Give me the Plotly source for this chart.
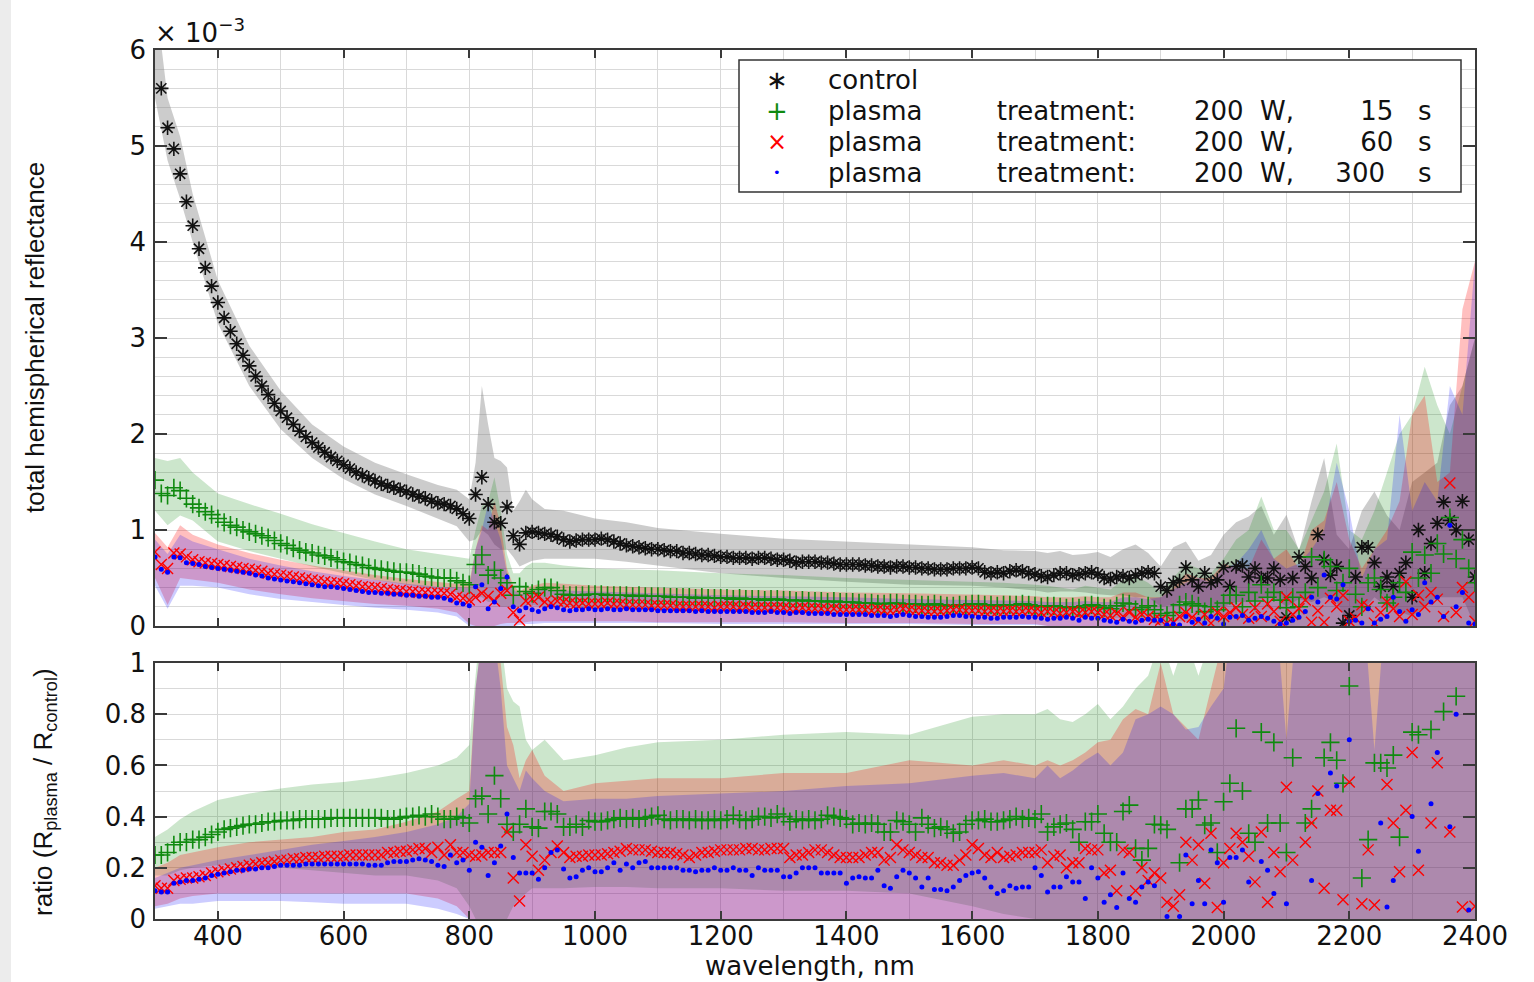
import plotly.graph_objects as go

# ---------------- data ----------------
wavelength = list(range(300, 2401, 10))

control = [
    6.10, 5.60, 5.19, 4.97, 4.71, 4.42, 4.17, 3.93, 3.73, 3.54, 3.37,
    3.21, 3.07, 2.94, 2.82, 2.71, 2.60, 2.50, 2.41, 2.32, 2.24,
    2.17, 2.10, 2.03, 1.97, 1.91, 1.86, 1.81, 1.76, 1.72, 1.68,
    1.64, 1.60, 1.57, 1.54, 1.51, 1.48, 1.46, 1.44, 1.42, 1.40,
    1.37, 1.35, 1.33, 1.30, 1.28, 1.27, 1.25, 1.22, 1.17, 1.12,
    1.37, 1.55, 1.27, 1.08, 1.07, 1.24, 0.94, 0.85, 0.97, 0.98,
    0.97, 0.96, 0.95, 0.93, 0.90, 0.88, 0.89, 0.90, 0.90, 0.90,
    0.91, 0.90, 0.88, 0.86, 0.84, 0.83, 0.82, 0.81, 0.80, 0.80,
    0.79, 0.78, 0.78, 0.76, 0.76, 0.75, 0.74, 0.74, 0.73, 0.72,
    0.72, 0.71, 0.71, 0.71, 0.70, 0.71, 0.71, 0.70, 0.69, 0.69,
    0.68, 0.66, 0.67, 0.67, 0.67, 0.66, 0.66, 0.65, 0.64, 0.64,
    0.64, 0.64, 0.63, 0.63, 0.62, 0.62, 0.61, 0.62, 0.62, 0.61,
    0.61, 0.60, 0.60, 0.59, 0.59, 0.59, 0.60, 0.60, 0.60, 0.61,
    0.60, 0.56, 0.55, 0.56, 0.55, 0.57, 0.58, 0.57, 0.55, 0.54,
    0.52, 0.51, 0.53, 0.55, 0.55, 0.53, 0.54, 0.55, 0.56, 0.54,
    0.50, 0.49, 0.51, 0.52, 0.50, 0.53, 0.55, 0.56, 0.55, 0.41,
    0.37, 0.45, 0.47, 0.61, 0.48, 0.41, 0.55, 0.45, 0.48, 0.61,
    0.41, 0.62, 0.63, 0.51, 0.60, 0.50, 0.50, 0.60, 0.48, 0.09,
    0.50, 0.72, 0.62, 0.50, 0.95, 0.69, 0.53, 0.62, 0.03, 0.11,
    0.51, 0.82, 0.82, 0.66, 0.41, 0.51, 0.41, 0.55, 0.66, 0.30,
    1.00, 0.55, 0.86, 1.07, 1.29, 1.10, 1.00, 1.30, 0.90, 0.51,
]

plasma_15 = [
    1.52, 1.38, 1.36, 1.44, 1.41, 1.33, 1.27, 1.23, 1.19, 1.16, 1.12,
    1.08, 1.05, 1.03, 1.00, 0.98, 0.96, 0.94, 0.92, 0.89, 0.86,
    0.84, 0.81, 0.79, 0.77, 0.76, 0.74, 0.73, 0.71, 0.69, 0.67,
    0.66, 0.64, 0.63, 0.61, 0.60, 0.59, 0.58, 0.57, 0.56, 0.56,
    0.55, 0.54, 0.52, 0.51, 0.50, 0.50, 0.50, 0.47, 0.45, 0.43,
    0.64, 0.74, 0.53, 0.58, 0.50, 0.45, 0.32, 0.41, 0.36, 0.34,
    0.38, 0.40, 0.40, 0.37, 0.33, 0.32, 0.32, 0.32, 0.33, 0.33,
    0.33, 0.32, 0.32, 0.32, 0.32, 0.31, 0.32, 0.31, 0.31, 0.31,
    0.31, 0.30, 0.30, 0.30, 0.30, 0.29, 0.30, 0.29, 0.29, 0.29,
    0.29, 0.28, 0.29, 0.28, 0.28, 0.28, 0.27, 0.28, 0.28, 0.27,
    0.27, 0.26, 0.27, 0.26, 0.26, 0.26, 0.25, 0.26, 0.25, 0.25,
    0.25, 0.24, 0.24, 0.24, 0.23, 0.23, 0.24, 0.24, 0.23, 0.23,
    0.23, 0.22, 0.22, 0.23, 0.22, 0.21, 0.21, 0.22, 0.22, 0.23,
    0.23, 0.22, 0.22, 0.21, 0.22, 0.22, 0.22, 0.23, 0.22, 0.21,
    0.20, 0.21, 0.21, 0.20, 0.19, 0.20, 0.19, 0.21, 0.22, 0.21,
    0.19, 0.18, 0.21, 0.24, 0.23, 0.17, 0.19, 0.21, 0.17, 0.13,
    0.11, 0.14, 0.22, 0.25, 0.23, 0.21, 0.15, 0.20, 0.17, 0.24,
    0.32, 0.32, 0.20, 0.35, 0.26, 0.43, 0.30, 0.35, 0.27, 0.19,
    0.30, 0.20, 0.35, 0.72, 0.40, 0.69, 0.62, 0.37, 0.45, 0.60,
    0.33, 0.20, 0.45, 0.50, 0.38, 0.24, 0.30, 0.45, 0.35, 0.77,
    0.50, 0.74, 0.55, 0.86, 0.75, 1.13, 0.70, 0.90, 0.60, 0.45,
]

plasma_60 = [
    0.77, 0.64, 0.60, 0.76, 0.75, 0.72, 0.69, 0.67, 0.66, 0.65, 0.64,
    0.63, 0.62, 0.61, 0.60, 0.59, 0.58, 0.57, 0.55, 0.54, 0.53,
    0.52, 0.51, 0.50, 0.49, 0.48, 0.47, 0.46, 0.45, 0.45, 0.44,
    0.43, 0.42, 0.41, 0.40, 0.40, 0.39, 0.38, 0.37, 0.37, 0.36,
    0.36, 0.35, 0.35, 0.34, 0.34, 0.34, 0.33, 0.30, 0.29, 0.27,
    0.30, 0.34, 0.31, 0.26, 0.34, 0.37, 0.14, 0.06, 0.26, 0.28,
    0.30, 0.25, 0.24, 0.26, 0.25, 0.24, 0.23, 0.24, 0.23, 0.23,
    0.23, 0.24, 0.23, 0.23, 0.22, 0.22, 0.22, 0.22, 0.21, 0.21,
    0.21, 0.21, 0.20, 0.20, 0.20, 0.20, 0.20, 0.20, 0.19, 0.20,
    0.20, 0.20, 0.19, 0.20, 0.19, 0.19, 0.19, 0.19, 0.19, 0.19,
    0.18, 0.18, 0.19, 0.18, 0.18, 0.18, 0.17, 0.18, 0.17, 0.17,
    0.17, 0.17, 0.17, 0.16, 0.17, 0.16, 0.16, 0.17, 0.18, 0.17,
    0.16, 0.16, 0.15, 0.15, 0.15, 0.16, 0.17, 0.17, 0.16, 0.16,
    0.16, 0.15, 0.16, 0.15, 0.15, 0.16, 0.15, 0.15, 0.16, 0.15,
    0.14, 0.15, 0.14, 0.13, 0.14, 0.15, 0.13, 0.14, 0.15, 0.14,
    0.12, 0.11, 0.13, 0.10, 0.14, 0.09, 0.12, 0.10, 0.07, 0.06,
    0.03, 0.04, 0.10, 0.14, 0.09, 0.05, 0.12, 0.03, 0.14, 0.10,
    0.14, 0.19, 0.12, 0.08, 0.19, 0.10, 0.23, 0.15, 0.05, 0.30,
    0.12, 0.18, 0.27, 0.04, 0.16, 0.04, 0.29, 0.20, 0.32, 0.05,
    0.08, 0.22, 0.20, 0.03, 0.14, 0.25, 0.18, 0.10, 0.46, 0.12,
    0.32, 0.20, 0.35, 0.28, 0.10, 1.49, 0.14, 0.40, 0.30, 0.05,
]

plasma_300 = [
    0.72, 0.59, 0.56, 0.72, 0.71, 0.66, 0.65, 0.64, 0.62, 0.61, 0.60,
    0.59, 0.58, 0.57, 0.56, 0.55, 0.53, 0.52, 0.50, 0.49, 0.48,
    0.47, 0.46, 0.45, 0.44, 0.43, 0.42, 0.41, 0.41, 0.40, 0.39,
    0.38, 0.37, 0.36, 0.35, 0.35, 0.34, 0.34, 0.33, 0.33, 0.32,
    0.32, 0.31, 0.31, 0.30, 0.30, 0.29, 0.27, 0.24, 0.23, 0.21,
    0.41, 0.43, 0.18, 0.25, 0.39, 0.51, 0.20, 0.16, 0.19, 0.17,
    0.15, 0.18, 0.20, 0.19, 0.17, 0.16, 0.17, 0.17, 0.18, 0.17,
    0.17, 0.18, 0.17, 0.17, 0.18, 0.17, 0.17, 0.17, 0.17, 0.16,
    0.16, 0.16, 0.16, 0.16, 0.16, 0.15, 0.16, 0.15, 0.15, 0.15,
    0.15, 0.15, 0.15, 0.15, 0.14, 0.14, 0.14, 0.15, 0.14, 0.14,
    0.13, 0.14, 0.14, 0.13, 0.13, 0.13, 0.13, 0.12, 0.12, 0.12,
    0.12, 0.12, 0.12, 0.11, 0.11, 0.11, 0.10, 0.11, 0.12, 0.11,
    0.10, 0.10, 0.09, 0.09, 0.09, 0.10, 0.11, 0.11, 0.10, 0.10,
    0.09, 0.09, 0.08, 0.08, 0.09, 0.09, 0.09, 0.10, 0.09, 0.09,
    0.08, 0.07, 0.08, 0.08, 0.09, 0.08, 0.06, 0.09, 0.08, 0.08,
    0.06, 0.05, 0.04, 0.07, 0.05, 0.04, 0.06, 0.07, 0.06, 0.06,
    0.01, 0.02, 0.01, 0.10, 0.04, 0.07, 0.03, 0.10, 0.08, 0.02,
    0.09, 0.10, 0.11, 0.06, 0.08, 0.10, 0.08, 0.05, 0.02, 0.03,
    0.06, 0.09, 0.15, 0.30, 0.25, 0.53, 0.30, 0.28, 0.43, 0.05,
    0.06, 0.03, 0.18, 0.03, 0.07, 0.10, 0.30, 0.15, 0.05, 0.17,
    0.12, 0.45, 0.25, 0.30, 0.10, 1.05, 0.20, 0.35, 0.03, 0.02,
]

ratio_15 = [
    0.25, 0.25, 0.26, 0.29, 0.30, 0.30, 0.31, 0.31, 0.32, 0.33, 0.34,
    0.35, 0.355, 0.36, 0.365, 0.37, 0.37, 0.375, 0.38, 0.38, 0.385,
    0.385, 0.385, 0.39, 0.39, 0.39, 0.39, 0.39, 0.395, 0.395, 0.395,
    0.395, 0.395, 0.395, 0.395, 0.395, 0.395, 0.39, 0.39, 0.395, 0.40,
    0.40, 0.405, 0.40, 0.41, 0.40, 0.39, 0.39, 0.40, 0.395, 0.375,
    0.47, 0.48, 0.41, 0.56, 0.47, 0.37, 0.34, 0.37, 0.43, 0.36,
    0.355, 0.42, 0.42, 0.41, 0.36, 0.36, 0.37, 0.36, 0.385, 0.38,
    0.38, 0.385, 0.39, 0.395, 0.39, 0.395, 0.39, 0.395, 0.40, 0.405,
    0.39, 0.385, 0.39, 0.39, 0.385, 0.39, 0.385, 0.385, 0.39, 0.385,
    0.39, 0.405, 0.39, 0.385, 0.39, 0.40, 0.40, 0.395, 0.41, 0.40,
    0.38, 0.39, 0.385, 0.39, 0.385, 0.39, 0.405, 0.40, 0.395, 0.39,
    0.37, 0.375, 0.37, 0.375, 0.37, 0.34, 0.34, 0.385, 0.38, 0.37,
    0.34, 0.395, 0.37, 0.355, 0.36, 0.35, 0.335, 0.34, 0.37, 0.385,
    0.385, 0.39, 0.38, 0.38, 0.385, 0.39, 0.40, 0.39, 0.395, 0.39,
    0.41, 0.34, 0.36, 0.37, 0.375, 0.35, 0.30, 0.38, 0.38, 0.41,
    0.335, 0.30, 0.30, 0.42, 0.445, 0.276, 0.23, 0.276, 0.37, 0.367,
    0.35, 1.10, 0.22, 0.43, 0.43, 0.465, 0.367, 0.375, 0.26, 0.458,
    0.53, 0.745, 0.50, 0.335, 0.30, 0.73, 0.375, 0.69, 0.375, 0.26,
    0.63, 1.20, 0.375, 0.43, 1.10, 0.63, 0.69, 0.62, 0.53, 0.91,
    1.20, 0.16, 0.31, 0.61, 0.61, 0.59, 0.64, 0.32, 1.20, 0.73,
    0.72, 1.30, 0.74, 1.10, 0.81, 1.20, 0.87, 1.40, 1.30, 1.20,
]

ratio_60 = [
    0.13, 0.12, 0.12, 0.15, 0.155, 0.16, 0.16, 0.165, 0.17, 0.18, 0.185,
    0.19, 0.195, 0.20, 0.205, 0.21, 0.215, 0.22, 0.22, 0.225, 0.23,
    0.23, 0.235, 0.235, 0.24, 0.24, 0.24, 0.245, 0.245, 0.245, 0.245,
    0.25, 0.25, 0.25, 0.25, 0.25, 0.25, 0.26, 0.26, 0.265, 0.265,
    0.27, 0.275, 0.275, 0.26, 0.28, 0.25, 0.29, 0.26, 0.26, 0.25,
    0.245, 0.25, 0.26, 0.26, 0.26, 0.34, 0.16, 0.07, 0.29, 0.245,
    0.19, 0.23, 0.26, 0.285, 0.26, 0.24, 0.245, 0.245, 0.25, 0.25,
    0.25, 0.255, 0.26, 0.265, 0.275, 0.27, 0.27, 0.27, 0.265, 0.26,
    0.26, 0.26, 0.255, 0.25, 0.24, 0.25, 0.26, 0.26, 0.265, 0.27,
    0.27, 0.27, 0.27, 0.275, 0.275, 0.27, 0.27, 0.275, 0.275, 0.275,
    0.24, 0.25, 0.25, 0.26, 0.27, 0.27, 0.26, 0.25, 0.24, 0.24,
    0.24, 0.24, 0.25, 0.26, 0.26, 0.23, 0.24, 0.29, 0.27, 0.26,
    0.25, 0.24, 0.24, 0.22, 0.22, 0.21, 0.21, 0.23, 0.25, 0.29,
    0.275, 0.25, 0.24, 0.26, 0.24, 0.245, 0.25, 0.26, 0.26, 0.26,
    0.27, 0.22, 0.245, 0.25, 0.20, 0.22, 0.22, 0.275, 0.27, 0.27,
    0.18, 0.19, 0.11, 0.27, 0.26, 0.11, 0.20, 0.15, 0.18, 0.16,
    0.065, 0.05, 0.095, 0.30, 0.23, 0.29, 0.14, 0.335, 0.045, 0.22,
    0.275, 0.335, 0.30, 0.245, 0.145, 0.34, 0.065, 0.26, 0.185, 0.515,
    0.23, -0.05, 0.30, 0.375, 0.50, 0.12, 0.425, 0.425, 0.075, 0.535,
    -0.05, 0.06, 0.27, 0.055, -0.05, 0.525, 0.375, 0.185, 0.425, 0.65,
    0.19, -0.05, 0.375, 0.61, -0.05, 0.34, -0.05, 0.047, -0.05, 0.05,
]

ratio_300 = [
    0.11, 0.105, 0.105, 0.14, 0.145, 0.15, 0.15, 0.155, 0.16, 0.17, 0.175,
    0.18, 0.185, 0.19, 0.19, 0.195, 0.195, 0.20, 0.20, 0.205, 0.21,
    0.21, 0.21, 0.21, 0.215, 0.215, 0.215, 0.215, 0.215, 0.215, 0.215,
    0.215, 0.215, 0.215, 0.21, 0.21, 0.21, 0.22, 0.225, 0.225, 0.225,
    0.23, 0.235, 0.23, 0.225, 0.21, 0.205, 0.25, 0.22, 0.23, 0.19,
    0.30, 0.28, 0.17, 0.22, 0.285, 0.41, 0.24, 0.18, 0.18, 0.18,
    0.155, 0.20, 0.26, 0.27, 0.195, 0.16, 0.165, 0.19, 0.20, 0.185,
    0.185, 0.20, 0.22, 0.19, 0.215, 0.20, 0.22, 0.225, 0.20, 0.20,
    0.20, 0.20, 0.20, 0.19, 0.19, 0.185, 0.19, 0.19, 0.20, 0.19,
    0.19, 0.20, 0.19, 0.19, 0.17, 0.20, 0.19, 0.19, 0.19, 0.165,
    0.165, 0.18, 0.20, 0.20, 0.20, 0.18, 0.18, 0.18, 0.18, 0.14,
    0.16, 0.165, 0.16, 0.16, 0.19, 0.13, 0.12, 0.165, 0.19, 0.18,
    0.16, 0.125, 0.16, 0.115, 0.115, 0.11, 0.125, 0.15, 0.17, 0.18,
    0.185, 0.16, 0.125, 0.10, 0.11, 0.13, 0.12, 0.125, 0.125, 0.20,
    0.17, 0.105, 0.125, 0.125, 0.165, 0.145, 0.145, 0.08, 0.20, 0.16,
    0.065, 0.095, 0.045, 0.18, 0.08, 0.065, 0.125, 0.145, 0.13, -0.05,
    0.01, -0.05, 0.01, 0.25, 0.06, 0.15, 0.06, 0.27, 0.22, 0.065,
    0.24, 0.24, 0.27, 0.145, -0.05, 0.225, 0.19, 0.10, -0.05, 0.06,
    -0.05, -0.05, -0.05, 0.15, 0.49, -0.05, 0.57, 0.52, -0.05, 0.70,
    -0.05, -0.05, -0.05, -0.05, 0.375, 0.047, 0.15, -0.05, -0.05, 0.40,
    0.265, -0.05, 0.45, 0.65, -0.05, 0.36, 0.80, -0.05, 0.035, -0.05,
]

# spread bands (sampled on their own wavelength breakpoints)
band_x = [
    300, 320, 340, 360, 400, 450, 500, 550, 600, 650, 700, 750, 780, 800,
    810, 820, 830, 840, 850, 860, 870, 880, 890, 900,
    920, 950, 1000, 1050, 1100, 1200, 1300, 1400, 1500, 1600, 1650, 1700,
    1720, 1740, 1760, 1780, 1800, 1820, 1840, 1860, 1880, 1900,
    1920, 1940, 1960, 1980, 2000, 2020, 2040, 2060, 2080, 2100,
    2120, 2140, 2160, 2180, 2200, 2220, 2240, 2260, 2280, 2300,
    2320, 2340, 2360, 2380, 2400,
]
Z10 = [0] * 10
control_hi = [6.6, 5.5, 5.1, 4.5, 3.6, 2.92, 2.45, 2.1, 1.87, 1.7, 1.58, 1.47, 1.42, 1.32,
              1.7, 2.5, 2.1, 1.75, 1.72, 1.65, 1.2, 1.3, 1.42, 1.32,
              1.22, 1.2, 1.12, 1.08, 1.02, 0.96, 0.91, 0.88, 0.85, 0.82, 0.79, 0.78,
              0.76, 0.78, 0.74, 0.75, 0.77, 0.72, 0.8, 0.85, 0.76, 0.62,
              0.82, 0.88, 0.68, 0.74, 0.95, 1.08, 1.14, 1.25, 0.95, 1.16,
              0.78, 1.3, 1.75, 0.95, 0.8, 1.2, 1.4, 1.15, 1.0, 1.5,
              1.6, 1.7, 2.3, 2.5, 3.0]
control_lo = [5.5, 4.85, 4.45, 4.0, 3.15, 2.5, 2.05, 1.75, 1.53, 1.37, 1.25, 1.12, 1.04, 0.88,
              0.9, 1.0, 0.95, 0.85, 0.8, 0.8, 0.72, 0.62, 0.65, 0.68,
              0.7, 0.7, 0.7, 0.67, 0.63, 0.55, 0.5, 0.46, 0.43, 0.42, 0.4, 0.37,
              0.35, 0.36, 0.36, 0.35, 0.33, 0.32, 0.32, 0.30, 0.30, 0.20,
              0.22, 0.28, 0.20, 0.20, 0.20, 0.25, 0.25, 0.28, 0.30, 0.20,
              0.28, 0.25, 0.30, 0.25, 0.0, 0.15, 0.30, 0.20, 0.15, 0.10,
              0.20, 0.30, 0.30, 0.30, 0.0]
p15_hi = [1.75, 1.72, 1.75, 1.6, 1.38, 1.27, 1.17, 1.06, 0.97, 0.88, 0.8, 0.75, 0.72, 0.7,
          1.0, 1.25, 1.3, 1.55, 1.2, 0.75, 0.55, 0.55, 0.62, 0.66,
          0.66, 0.63, 0.6, 0.59, 0.58, 0.55, 0.53, 0.5, 0.48, 0.46, 0.45, 0.43,
          0.42, 0.40, 0.38, 0.42, 0.40, 0.38, 0.48, 0.52, 0.45, 0.35,
          0.5, 0.65, 0.6, 0.55, 0.7, 0.9, 1.0, 1.35, 1.0, 1.0,
          0.8, 1.1, 1.4, 1.9, 1.0, 0.9, 1.2, 1.6, 2.0, 2.2,
          2.7, 2.3, 2.0, 2.5, 3.0]
p15_lo = [1.2, 1.05, 1.15, 1.1, 0.88, 0.78, 0.7, 0.62, 0.55, 0.48, 0.43, 0.38, 0.35, 0.25,
          0.3, 0.3, 0.25, 0.25, 0.2, 0.2, 0.2, 0.2, 0.22, 0.22,
          0.2, 0.2, 0.18, 0.17, 0.16, 0.15, 0.14, 0.13, 0.12, 0.11, 0.1, 0.1,
          0.1, 0.1, 0.1, 0.1, 0.08, 0.08, 0.08, 0.08, 0.05, 0.0,
          0.05, 0.05, 0, 0, 0, 0, 0, 0, 0, 0] + Z10 + [0] * 5
p60_hi = [0.97, 0.82, 1.05, 0.95, 0.85, 0.76, 0.69, 0.63, 0.58, 0.53, 0.49, 0.46, 0.44, 0.45,
          0.8, 1.05, 1.0, 1.3, 1.05, 0.6, 0.42, 0.36, 0.4, 0.42,
          0.45, 0.44, 0.42, 0.41, 0.4, 0.38, 0.37, 0.35, 0.34, 0.33, 0.32, 0.31,
          0.3, 0.3, 0.3, 0.31, 0.3, 0.3, 0.35, 0.35, 0.3, 0.3,
          0.4, 0.55, 0.5, 0.5, 0.65, 0.6, 0.6, 0.9, 0.7, 0.8,
          0.6, 1.0, 1.1, 1.5, 0.9, 0.6, 0.8, 1.0, 1.3, 2.2,
          2.4, 1.5, 1.6, 3.3, 3.8]
p60_lo = [0.5, 0.22, 0.5, 0.48, 0.45, 0.38, 0.33, 0.29, 0.26, 0.23, 0.21, 0.18, 0.14, 0.02,
          0, 0, 0, 0, 0.02, 0.03, 0.03, 0.03, 0.04, 0.05,
          0.05, 0.05, 0.05, 0.05, 0.04, 0.04, 0.04, 0.03, 0.03, 0.02, 0.02, 0.02] + Z10 + Z10 + Z10 + [0] * 5
p300_hi = [0.9, 0.75, 0.95, 0.88, 0.8, 0.7, 0.63, 0.57, 0.52, 0.48, 0.44, 0.41, 0.4, 0.4,
           0.8, 1.0, 1.28, 1.1, 0.9, 0.55, 0.38, 0.33, 0.35, 0.36,
           0.38, 0.37, 0.36, 0.35, 0.34, 0.32, 0.31, 0.3, 0.28, 0.27, 0.26, 0.26,
           0.25, 0.25, 0.25, 0.26, 0.25, 0.25, 0.3, 0.3, 0.28, 0.3,
           0.38, 0.45, 0.5, 0.45, 0.6, 0.65, 0.8, 1.0, 0.7, 0.6,
           0.65, 0.8, 1.0, 1.7, 1.2, 0.5, 0.8, 0.9, 2.2, 1.2,
           1.5, 1.3, 2.5, 2.2, 3.8]
p300_lo = [0.42, 0.18, 0.42, 0.42, 0.4, 0.33, 0.28, 0.25, 0.22, 0.19, 0.17, 0.14, 0.1, 0.0,
           0, 0, 0, 0, 0, 0, 0, 0.01, 0.02, 0.02,
           0.03, 0.03, 0.03, 0.03, 0.03, 0.02, 0.02, 0.02, 0.02, 0.01, 0.01, 0.01] + Z10 + Z10 + Z10 + [0] * 5

r15_hi = [0.32, 0.35, 0.39, 0.42, 0.465, 0.49, 0.51, 0.525, 0.535, 0.55, 0.57, 0.6, 0.63, 0.68,
          0.95, 1.2, 1.2, 1.2, 1.1, 0.9, 0.85, 0.83, 0.7, 0.66,
          0.7, 0.62, 0.64, 0.67, 0.69, 0.70, 0.72, 0.73, 0.72, 0.79, 0.8, 0.8,
          0.82, 0.78, 0.77, 0.8, 0.84, 0.78, 0.83, 0.9, 0.95, 1.1,
          0.95, 1.1, 0.95, 1.1, 1.2, 1.3, 1.3, 1.3, 1.3, 1.3] + [1.3] * 15
r15_lo = [0.17, 0.17, 0.19, 0.2, 0.21, 0.21, 0.2, 0.19, 0.18, 0.17, 0.17, 0.15, 0.12, 0.05,
          0, 0, 0, 0, 0, 0, 0.05, 0.08, 0.1, 0.12,
          0.12, 0.12, 0.125, 0.125, 0.12, 0.12, 0.11, 0.11, 0.1, 0.05, 0.02, 0.0] + Z10 + Z10 + Z10 + [0] * 5
r60_hi = [0.2, 0.22, 0.25, 0.26, 0.28, 0.3, 0.31, 0.32, 0.34, 0.35, 0.38, 0.42, 0.47, 0.5,
          0.9, 1.1, 1.1, 1.1, 1.0, 0.75, 0.68, 0.55, 0.62, 0.66,
          0.56, 0.5, 0.53, 0.54, 0.55, 0.55, 0.57, 0.57, 0.62, 0.6, 0.62, 0.6,
          0.62, 0.6, 0.62, 0.65, 0.69, 0.7, 0.78, 0.82, 0.8, 1.0,
          0.8, 0.75, 0.7, 0.9, 1.1, 1.3, 1.3, 1.3, 1.3, 1.3] + [1.3] * 15
r60_lo = [0.05, 0.06, 0.08, 0.09, 0.1, 0.1, 0.1, 0.1, 0.1, 0.1, 0.1, 0.08, 0.05, 0.0] + [0] * 57
r300_hi = [0.16, 0.18, 0.2, 0.21, 0.23, 0.25, 0.27, 0.29, 0.305, 0.32, 0.34, 0.37, 0.4, 0.45,
           0.9, 1.1, 1.1, 1.1, 0.9, 0.6, 0.55, 0.5, 0.58, 0.55,
           0.5, 0.46, 0.47, 0.47, 0.48, 0.49, 0.5, 0.52, 0.53, 0.56, 0.57, 0.55,
           0.6, 0.55, 0.58, 0.62, 0.65, 0.6, 0.65, 0.78, 0.8, 0.83,
           0.8, 0.74, 0.75, 0.83, 0.9, 1.3, 1.3, 1.3, 1.3, 0.7,
           1.3, 1.3, 1.3, 1.3, 1.3, 1.3, 0.66, 1.3, 1.3, 1.3,
           1.3, 1.3, 1.3, 1.3, 1.3]
r300_lo = [0.04, 0.05, 0.06, 0.06, 0.07, 0.07, 0.07, 0.065, 0.06, 0.06, 0.06, 0.04, 0.02, 0.0] + [0] * 57

for name, arr in [("control", control), ("plasma_15", plasma_15), ("plasma_60", plasma_60),
                  ("plasma_300", plasma_300), ("ratio_15", ratio_15), ("ratio_60", ratio_60),
                  ("ratio_300", ratio_300)]:
    assert len(arr) == len(wavelength), (name, len(arr))
for name, arr in [("control_hi", control_hi), ("control_lo", control_lo), ("p15_hi", p15_hi),
                  ("p15_lo", p15_lo), ("p60_hi", p60_hi), ("p60_lo", p60_lo), ("p300_hi", p300_hi),
                  ("p300_lo", p300_lo), ("r15_hi", r15_hi), ("r15_lo", r15_lo), ("r60_hi", r60_hi),
                  ("r60_lo", r60_lo), ("r300_hi", r300_hi), ("r300_lo", r300_lo)]:
    assert len(arr) == len(band_x), (name, len(arr))

legend_labels = [
    "control",
    "plasma  treatment: 200 W,   15 s",
    "plasma  treatment: 200 W,   60 s",
    "plasma  treatment: 200 W, 300 s",
]

# ---------------- styling ----------------
W, H = 1534, 982
PL, PR, PT, PB = 155, 1475, 50, 919   # plot box in px


def fx(px):
    return (px - PL) / (PR - PL)


def fy(py):
    return (PB - py) / (PB - PT)


C_GRAY = "rgba(128,128,128,0.40)"
C_GREEN = "rgba(0,128,0,0.20)"
C_RED = "rgba(255,0,0,0.25)"
C_BLUE = "rgba(0,0,255,0.20)"
COL_CTRL, COL_15, COL_60, COL_300 = "#111111", "#0f8a0f", "#ff0000", "#0000ff"
TEXT = "DejaVu Sans"

fig = go.Figure()


def band(lo, hi, color, xa, ya):
    fig.add_trace(go.Scatter(
        x=band_x + band_x[::-1], y=hi + lo[::-1], fill="toself", fillcolor=color,
        mode="lines", line=dict(width=0), hoverinfo="skip", showlegend=False,
        xaxis=xa, yaxis=ya))


band(control_lo, control_hi, C_GRAY, "x", "y")
band(p15_lo, p15_hi, C_GREEN, "x", "y")
band(p60_lo, p60_hi, C_RED, "x", "y")
band(p300_lo, p300_hi, C_BLUE, "x", "y")
band(r15_lo, r15_hi, C_GREEN, "x2", "y2")
band(r60_lo, r60_hi, C_RED, "x2", "y2")
band(r300_lo, r300_hi, C_BLUE, "x2", "y2")

mk_ctrl = dict(symbol="asterisk-open", size=12, color=COL_CTRL, line=dict(width=1.6, color=COL_CTRL))
mk_15 = dict(symbol="cross-thin-open", size=13, color=COL_15, line=dict(width=1.6, color=COL_15))
mk_60 = dict(symbol="x-thin-open", size=11, color=COL_60, line=dict(width=1.4, color=COL_60))
mk_300 = dict(symbol="circle", size=5, color=COL_300, line=dict(width=0))

for ys, mk, name in [(control, mk_ctrl, legend_labels[0]), (plasma_15, mk_15, legend_labels[1]),
                     (plasma_60, mk_60, legend_labels[2]), (plasma_300, mk_300, legend_labels[3])]:
    fig.add_trace(go.Scatter(x=wavelength, y=ys, mode="markers", marker=mk, name=name,
                             showlegend=False, xaxis="x", yaxis="y"))
for ys, mk, name in [(ratio_15, mk_15, legend_labels[1]), (ratio_60, mk_60, legend_labels[2]),
                     (ratio_300, mk_300, legend_labels[3])]:
    fig.add_trace(go.Scatter(x=wavelength, y=ys, mode="markers", marker=mk, name=name,
                             showlegend=False, xaxis="x2", yaxis="y2"))

GRID = "#d9d9d9"
AX = "#3a3a3a"
common = dict(showline=True, linecolor=AX, linewidth=1.5, mirror="ticks", ticks="inside",
              tickcolor=AX, tickwidth=1.5, showgrid=True, gridcolor=GRID, gridwidth=1.3,
              zeroline=False, tickfont=dict(family=TEXT, size=26, color="#111111"))

fig.update_layout(
    width=W, height=H, paper_bgcolor="white", plot_bgcolor="white",
    margin=dict(l=PL, r=W - PR, t=PT, b=H - PB), showlegend=False,
    xaxis=dict(common, domain=[0, 1], anchor="y", range=[300, 2400], dtick=200, tick0=0,
               ticklen=8, showticklabels=False,
               minor=dict(dtick=100, showgrid=True, gridcolor=GRID, gridwidth=1.3, ticks="")),
    yaxis=dict(common, domain=[fy(626), 1], anchor="x", range=[0, 6], dtick=1, ticklen=12,
               ticklabelstandoff=2,
               minor=dict(dtick=0.2, showgrid=True, gridcolor=GRID, gridwidth=1.3, ticks="")),
    xaxis2=dict(common, domain=[0, 1], anchor="y2", range=[300, 2400], dtick=200, tick0=0,
                ticklen=8, ticklabelstandoff=-7,
                minor=dict(dtick=100, showgrid=True, gridcolor=GRID, gridwidth=1.3, ticks="")),
    yaxis2=dict(common, domain=[0, fy(663)], anchor="x2", range=[0, 1], dtick=0.2, ticklen=12,
                ticklabelstandoff=2,
                minor=dict(dtick=0.1, showgrid=True, gridcolor=GRID, gridwidth=1.3, ticks="")),
)

shapes = [
    dict(type="rect", xref="paper", yref="paper", x0=fx(0), x1=fx(11), y0=fy(H), y1=fy(0),
         fillcolor="#ececec", line=dict(width=0), layer="below"),
    dict(type="rect", xref="paper", yref="paper", x0=fx(739), x1=fx(1461), y0=fy(192), y1=fy(60),
         fillcolor="white", line=dict(color="#333333", width=1.5), layer="above"),
]

NB = "\u00a0"
legend_text = [
    "control",
    "plasma" + NB * 9 + "treatment:" + NB * 7 + "200" + NB * 2 + "W," + NB * 8 + "15" + NB * 3 + "s",
    "plasma" + NB * 9 + "treatment:" + NB * 7 + "200" + NB * 2 + "W," + NB * 8 + "60" + NB * 3 + "s",
    "plasma" + NB * 9 + "treatment:" + NB * 7 + "200" + NB * 2 + "W," + NB * 5 + "300" + NB * 4 + "s",
]
legend_syms = [("\u2217", COL_CTRL, 26), ("+", COL_15, 26), ("\u00d7", COL_60, 24), ("\u2022", COL_300, 13)]
row_y = [80, 111, 142, 173]

annotations = [
    dict(text="\u00d7 10<sup>\u22123</sup>", xref="paper", yref="paper", x=fx(153), y=fy(31),
         xanchor="left", yanchor="middle", showarrow=False,
         font=dict(family=TEXT, size=26, color="#111111")),
    dict(text="total hemispherical reflectance", xref="paper", yref="paper", x=fx(35), y=fy(338),
         xanchor="center", yanchor="middle", textangle=-90, showarrow=False,
         font=dict(family="Liberation Sans", size=26, color="#111111")),
    dict(text="ratio (R<sub>plasma</sub> / R<sub>control</sub>)", xref="paper", yref="paper",
         x=fx(44), y=fy(792), xanchor="center", yanchor="middle", textangle=-90, showarrow=False,
         font=dict(family="Liberation Sans", size=26, color="#111111")),
    dict(text="wavelength, nm", xref="paper", yref="paper", x=fx(810), y=fy(966),
         xanchor="center", yanchor="middle", showarrow=False,
         font=dict(family=TEXT, size=26, color="#111111")),
]
for txt, (sym, col, sz), yy in zip(legend_text, legend_syms, row_y):
    annotations.append(dict(text=sym, xref="paper", yref="paper", x=fx(777), y=fy(yy),
                            xanchor="center", yanchor="middle", showarrow=False,
                            font=dict(family=TEXT, size=sz, color=col)))
    annotations.append(dict(text=txt, xref="paper", yref="paper", x=fx(826), y=fy(yy),
                            xanchor="left", yanchor="middle", showarrow=False,
                            font=dict(family=TEXT, size=26, color="#111111")))

fig.update_layout(shapes=shapes, annotations=annotations)

fig.write_html("out.html", config={"displayModeBar": False},
               post_script="document.body.style.margin='0';document.body.style.overflow='hidden';")
